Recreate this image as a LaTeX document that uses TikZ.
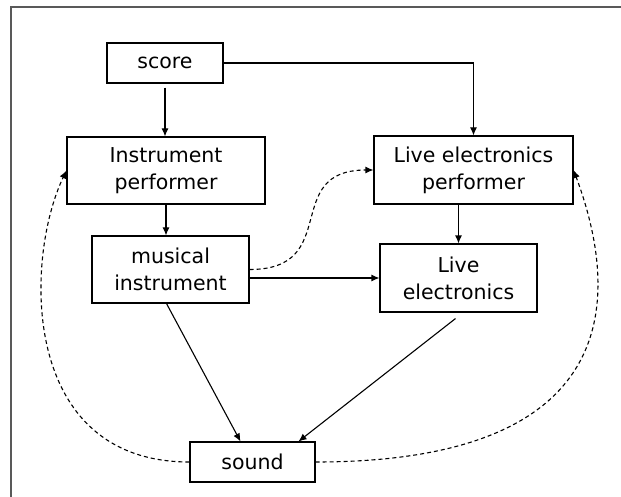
\documentclass[tikz,border=0pt]{standalone}
\usepackage{fontspec}
\setmainfont{DejaVu Sans}
\usepackage{tikz}
\usetikzlibrary{arrows.meta,calc}

\begin{document}
\begin{tikzpicture}[x=1pt, y=-1pt, ->, >={Latex[length=8pt,width=7pt]}, line width=1.1pt]
		\tikzstyle{block}=[draw, line width=1.1pt, align=center, inner sep=0pt, font=\fontsize{20.5}{27}\selectfont]
		\tikzstyle{feedback}=[dash pattern=on 4pt off 3pt]
		\useasboundingbox (0,0) rectangle (621,497);
		\draw[-, black!65, line width=1.4pt] (11,497) -- (11,7) -- (621,7);
		\begin{scope}
			\node[block, minimum width=116pt, minimum height=40pt] (score) at (165,63) {score};
			\node[block, minimum width=198pt, minimum height=67pt] (IP) at (166,170.5) {Instrument\\performer};
			\node[block, minimum width=157pt, minimum height=67pt] (MI) at (170.5,269.5) {musical\\instrument};
			\node[block, minimum width=199pt, minimum height=68pt] (LEP) at (473.5,170) {Live electronics\\performer};
			\node[block, minimum width=157pt, minimum height=68pt] (LE) at (458.5,278) {Live\\electronics};
			\node[block, minimum width=125pt, minimum height=40pt] (sound) at (252.5,462) {sound};

			\draw[shorten <=4pt] (score.south) -- (score.south |- IP.north); \draw (score.east) -| (LEP.north);
			\draw (IP.south) -- (IP.south |- MI.north); \draw (LE.north |- LEP.south) -- (LE.north);
			\draw (MI.east |- LE.west) -- (LE.west);
			\draw ($(MI.south)+(-4,0)$) -- ($(sound.north)+(-12,0)$);
			\draw ($(LE.south)+(-3,6)$) -- ($(sound.north)+(46,0)$);

			\draw[feedback] (MI.east) to[out=0,in=180,looseness=1.5] (LEP.west);
			\draw[feedback] (sound.west) .. controls +(-170,0) and +(-42,88) .. (IP.west);
			\draw[feedback] (sound.east) .. controls +(335,0) and +(36,97) .. (LEP.east);
		\end{scope}
	\end{tikzpicture}
\end{document}
